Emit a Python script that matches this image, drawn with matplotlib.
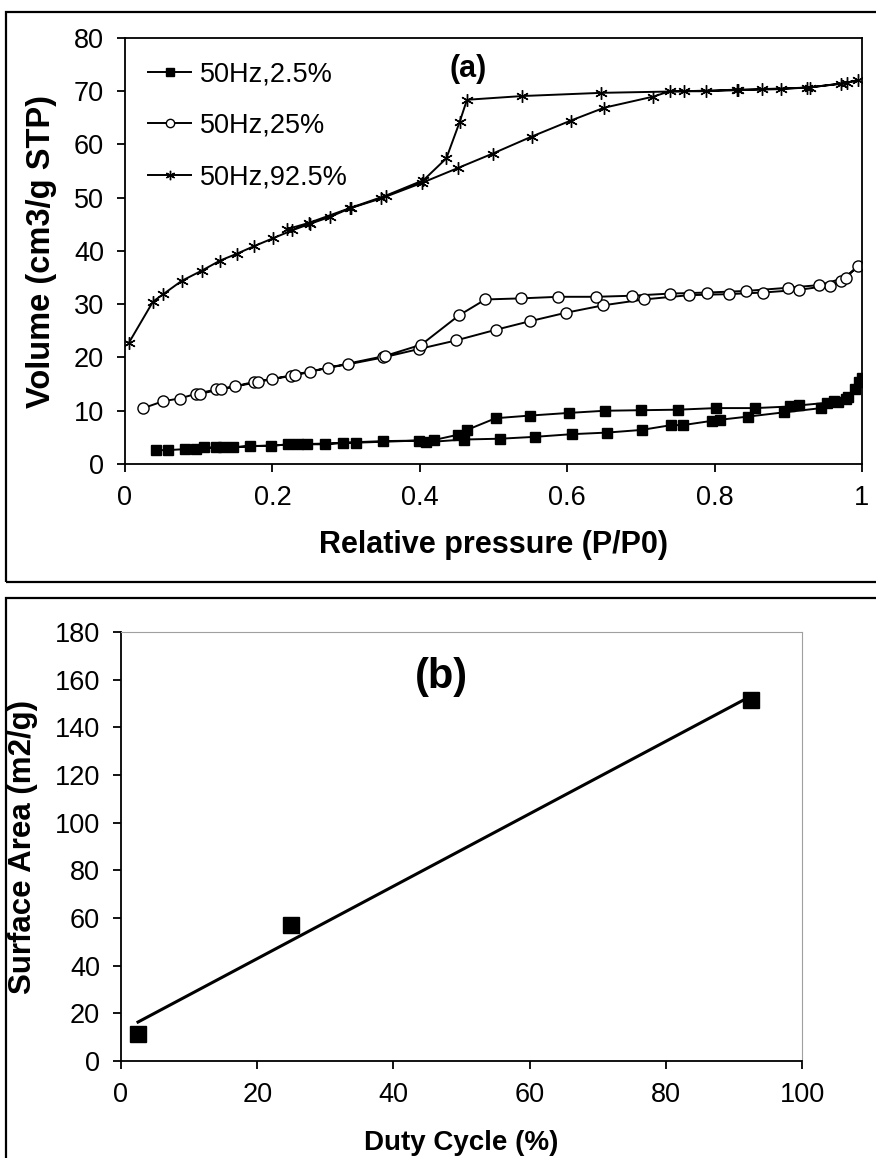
import numpy as np
import matplotlib
matplotlib.use("Agg")
import matplotlib.pyplot as plt
from matplotlib.patches import Rectangle

plt.rcParams['font.family'] = ['Liberation Sans', 'DejaVu Sans']

# (a) isotherms: adsorption branch then desorption branch
x_25a = [0.042, 0.058, 0.082, 0.097, 0.123, 0.147, 0.170, 0.198, 0.221, 0.247, 0.272, 0.296, 0.350,
         0.399, 0.409, 0.460, 0.509, 0.556, 0.606, 0.654, 0.701, 0.741, 0.757, 0.796, 0.807, 0.845,
         0.894, 0.945, 0.962, 0.978, 0.990, 0.996, 1.0]
y_25a = [2.6, 2.6, 2.8, 2.8, 3.1, 3.1, 3.4, 3.4, 3.7, 3.7, 3.7, 4.0, 4.3,
         4.4, 4.1, 4.6, 4.75, 5.1, 5.6, 5.9, 6.4, 7.3, 7.3, 8.1, 8.3, 8.9,
         9.7, 10.5, 11.8, 12.3, 14.0, 15.4, 16.2]
x_25d = [0.981, 0.968, 0.953, 0.914, 0.902, 0.855, 0.802, 0.750, 0.700, 0.651, 0.603, 0.550, 0.503,
         0.464, 0.452, 0.419, 0.313, 0.235, 0.133, 0.107]
y_25d = [12.6, 11.6, 11.5, 11.0, 10.8, 10.5, 10.5, 10.2, 10.1, 10.0, 9.6, 9.1, 8.6,
         6.4, 5.5, 4.5, 4.0, 3.7, 3.1, 3.1]

x_250a = [0.025, 0.052, 0.074, 0.097, 0.124, 0.149, 0.175, 0.200, 0.225, 0.251, 0.276, 0.302, 0.350,
          0.399, 0.449, 0.503, 0.549, 0.598, 0.649, 0.704, 0.765, 0.819, 0.866, 0.914, 0.956, 0.972, 0.994]
y_250a = [10.5, 11.8, 12.3, 13.2, 14.0, 14.6, 15.4, 16.0, 16.5, 17.3, 18.1, 18.7, 20.0,
          21.6, 23.2, 25.2, 26.8, 28.4, 29.8, 30.9, 31.7, 31.9, 32.2, 32.7, 33.5, 34.4, 37.1]
x_250d = [0.978, 0.942, 0.900, 0.843, 0.790, 0.739, 0.688, 0.639, 0.588, 0.537, 0.489, 0.453,
          0.402, 0.353, 0.231, 0.180, 0.130, 0.102]
y_250d = [35.0, 33.6, 33.1, 32.5, 32.2, 32.0, 31.6, 31.4, 31.4, 31.1, 30.9, 27.9,
          22.4, 20.3, 16.8, 15.4, 14.0, 13.2]

x_925a = [0.005, 0.038, 0.052, 0.077, 0.104, 0.129, 0.152, 0.175, 0.201, 0.227, 0.251, 0.278, 0.305,
          0.348, 0.403, 0.452, 0.499, 0.552, 0.605, 0.650, 0.717, 0.739, 0.788, 0.830, 0.890, 0.925,
          0.972, 0.995]
y_925a = [22.7, 30.5, 31.9, 34.4, 36.3, 38.2, 39.5, 40.9, 42.4, 43.9, 45.1, 46.4, 48.0,
          49.9, 52.8, 55.6, 58.3, 61.5, 64.5, 66.9, 69.0, 70.0, 70.0, 70.2, 70.4, 70.7,
          71.4, 72.1]
x_925d = [0.979, 0.929, 0.864, 0.832, 0.759, 0.646, 0.539, 0.464, 0.454, 0.436, 0.405, 0.354,
          0.306, 0.250, 0.220]
y_925d = [71.6, 70.7, 70.4, 70.3, 70.0, 69.7, 69.1, 68.4, 64.2, 57.4, 53.3, 50.4,
          48.1, 45.3, 44.1]

# (b) surface area vs duty cycle
duty = [2.5, 25, 92.5]
area = [11.5, 57, 151.5]

fig = plt.figure(figsize=(8.76, 11.58), dpi=100)

# frames around each chart
fig.patches.append(Rectangle((6 / 876, 1 - 582 / 1158), 1.0, 570 / 1158, transform=fig.transFigure,
                             fill=False, lw=1.6, ec='black', zorder=0))
fig.patches.append(Rectangle((6 / 876, -0.01), 1.0, (1158 - 598) / 1158 + 0.01, transform=fig.transFigure,
                             fill=False, lw=1.6, ec='black', zorder=0))

ax = fig.add_axes([125 / 876, 1 - 464 / 1158, 737 / 876, 426 / 1158])
ax.plot(x_25a + x_25d, y_25a + y_25d, color='black', lw=1.4, marker='s', ms=7,
        mfc='black', mec='black', label='50Hz,2.5%')
ax.plot(x_250a + x_250d, y_250a + y_250d, color='black', lw=1.4, marker='o', ms=8,
        mfc='white', mec='black', mew=1.0, label='50Hz,25%')
ax.plot(x_925a + x_925d, y_925a + y_925d, color='black', lw=1.4, marker=(6, 2, 0), ms=9,
        mec='black', mew=1.0, label='50Hz,92.5%')
ax.set_xlim(0, 1)
ax.set_ylim(0, 80)
ax.set_xticks([0, 0.2, 0.4, 0.6, 0.8, 1])
ax.set_xticklabels(['0', '0.2', '0.4', '0.6', '0.8', '1'])
ax.set_yticks(range(0, 81, 10))
ax.tick_params(labelsize=19.5, direction='out', length=6, width=1.3, pad=9)
for s in ax.spines.values():
    s.set_linewidth(1.3)
ax.set_xlabel('Relative pressure (P/P0)', fontsize=22, fontweight='bold', labelpad=14)
ax.set_ylabel('Volume (cm3/g STP)', fontsize=23.5, fontweight='bold', labelpad=12)
ax.text(0.465, 74.2, '(a)', fontsize=22, fontweight='bold', ha='center', va='center')
ax.legend(loc='upper left', frameon=False, fontsize=19.5, handlelength=1.6, handletextpad=0.3,
          labelspacing=0.95, markerscale=0.75, borderaxespad=0.45, bbox_to_anchor=(0.0, 1.0))

# (b)
bx = fig.add_axes([121 / 876, 1 - 1061 / 1158, 681 / 876, 429 / 1158])
bx.plot(duty, area, linestyle='none', marker='s', ms=12, color='black')
k, b = np.polyfit(duty, area, 1)
xf = np.array([duty[0], duty[-1]])
bx.plot(xf, k * xf + b, color='black', lw=2.2)
bx.set_xlim(0, 100)
bx.set_ylim(0, 180)
bx.set_xticks(range(0, 101, 20))
bx.set_yticks(range(0, 181, 20))
bx.tick_params(labelsize=19.5, direction='out', length=6, width=1.3, pad=9)
bx.spines['left'].set_linewidth(1.3)
bx.spines['bottom'].set_linewidth(1.3)
bx.spines['top'].set_color('#a0a0a0')
bx.spines['right'].set_color('#a0a0a0')
bx.set_xlabel('Duty Cycle (%)', fontsize=20, fontweight='bold', labelpad=16)
bx.set_ylabel('Surface Area (m2/g)', fontsize=22.5, fontweight='bold', labelpad=12)
bx.text(47, 161, '(b)', fontsize=30, fontweight='bold', ha='center', va='center')

fig.savefig('out.png', dpi=100)
